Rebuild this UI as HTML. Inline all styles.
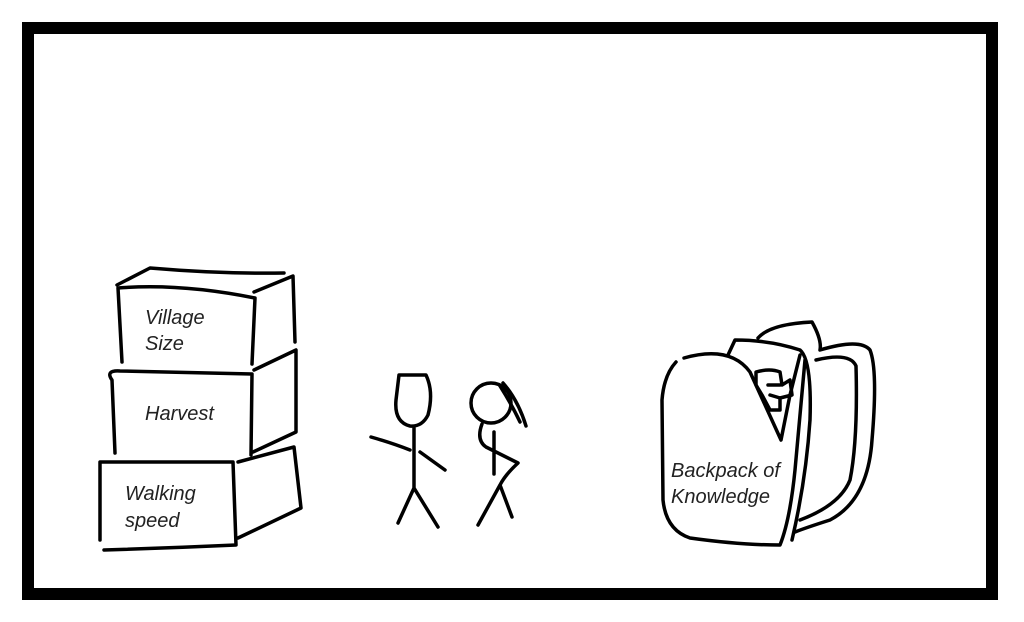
<!DOCTYPE html>
<html><head><style>
html,body{margin:0;padding:0;background:#fff;}
svg{display:block}
text{font-family:"Liberation Sans",sans-serif;font-style:italic;font-size:20px;fill:#222}
</style></head><body>
<svg width="1024" height="622" viewBox="0 0 1024 622">
<rect x="0" y="0" width="1024" height="622" fill="#fff"/>
<rect x="28" y="28" width="964" height="566" fill="none" stroke="#000" stroke-width="12"/>
<g fill="none" stroke="#000" stroke-width="3.5" stroke-linecap="round" stroke-linejoin="round">
<!-- top box -->
<path d="M122,362 L118,288 Q180,283 255,298 L252,364"/>
<path d="M117,285 L150,268 Q220,274 284,273"/>
<path d="M254,292 L293,276 L295,342"/>
<!-- middle box -->
<path d="M115,453 L112,380 Q105,370 120,371 L252,374 L251,455"/>
<path d="M254,370 L296,350 L296,432 L253,452"/>
<!-- bottom box -->
<path d="M100,540 L100,462 L233,462 L236,545 Q170,548 104,550"/>
<path d="M238,462 L294,447 L301,508 L238,538"/>
<!-- man -->
<path d="M399,375 L426,375 Q434,392 428,415 Q422,427 410,426 Q394,422 396,400 Z"/>
<path d="M414,428 L414,488 M371,437 Q392,443 410,450 M420,452 L445,470 M414,488 L398,523 M414,488 L438,527"/>
<!-- woman -->
<circle cx="491" cy="403" r="20"/>
<path d="M503,383 Q518,400 526,426 M500,386 Q512,405 520,422"/>
<path d="M494,432 L494,474 M482,424 Q476,440 486,447 L518,463 Q505,475 500,485 L478,525 M500,485 L512,517"/>
<!-- backpack back part -->
<path d="M758,338 Q770,324 812,322 Q822,340 820,350 Q860,338 870,350 Q878,370 872,440 Q868,500 830,520 Q805,528 795,532"/>
<path d="M816,360 Q850,352 856,366 Q858,440 850,480 Q840,505 800,520"/>
<path d="M728,355 L735,340 Q770,340 800,350 Q812,360 810,420 Q806,480 792,540"/>
<!-- front panel -->
<path d="M684,358 Q730,345 750,372 L781,440 L790,395 L800,355"/>
<path d="M676,362 Q664,375 662,400 L663,500 Q666,530 690,538 Q740,545 780,545 Q790,520 795,470 L805,360"/>
<!-- books -->
<path d="M756,385 L756,372 Q770,368 780,372 L782,385 L790,380 L792,395 L780,398 L780,410 L770,410 L762,395 Z"/>
<path d="M768,385 L780,385 M770,395 L780,398"/>
</g>
<text x="145" y="324">Village</text>
<text x="145" y="350">Size</text>
<text x="145" y="420">Harvest</text>
<text x="125" y="500">Walking</text>
<text x="125" y="527">speed</text>
<text x="671" y="477">Backpack of</text>
<text x="671" y="503">Knowledge</text>
</svg>
</body></html>
